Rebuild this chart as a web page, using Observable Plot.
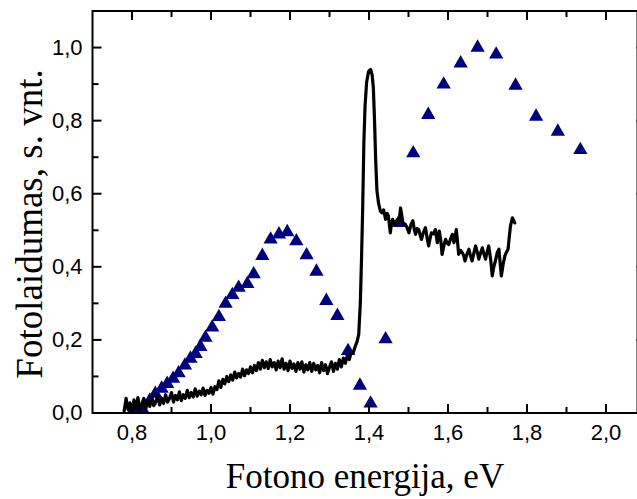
<!DOCTYPE html>
<html>
<head>
<meta charset="utf-8">
<script src="https://cdn.jsdelivr.net/npm/d3@7"></script>
<script src="https://cdn.jsdelivr.net/npm/@observablehq/plot@0.6"></script>
<style>
  html, body { margin: 0; padding: 0; background: #fff; overflow: hidden; }
  #chart svg { display: block; }
</style>
</head>
<body>
<div id="chart"></div>
<script>
// ---- data ----
const triangleX = [0.805,0.826,0.845,0.859,0.875,0.889,0.904,0.918,0.934,0.948,0.961,0.973,0.986,1.003,1.020,1.037,1.054,1.070,1.092,1.108,1.130,1.151,1.172,1.193,1.216,1.242,1.267,1.292,1.320,1.347,1.377,1.404,1.442,1.475,1.512,1.550,1.589,1.632,1.675,1.722,1.771,1.823,1.878,1.935];
const triangleY = [0.011,0.011,0.034,0.053,0.067,0.080,0.094,0.109,0.130,0.149,0.162,0.181,0.206,0.234,0.263,0.299,0.323,0.343,0.353,0.380,0.430,0.475,0.489,0.495,0.470,0.432,0.387,0.307,0.266,0.170,0.075,0.026,0.202,0.520,0.711,0.816,0.899,0.957,1.000,0.981,0.896,0.811,0.770,0.720];

const photoLine = [
[0.780,0.005],[0.785,0.040],[0.790,0.010],[0.795,0.028],[0.800,0.002],[0.805,0.036],[0.810,0.012],[0.815,0.042],[0.820,0.008],[0.825,0.025],
[0.830,0.040],[0.835,0.012],[0.840,0.034],[0.845,0.018],[0.850,0.044],[0.855,0.020],[0.860,0.030],[0.865,0.048],[0.870,0.022],[0.875,0.040],
[0.880,0.026],[0.885,0.050],[0.890,0.030],[0.895,0.040],[0.900,0.056],[0.905,0.030],[0.910,0.048],[0.915,0.036],[0.920,0.058],[0.925,0.034],
[0.930,0.050],[0.935,0.040],[0.940,0.062],[0.945,0.042],[0.950,0.056],[0.955,0.044],[0.960,0.066],[0.965,0.046],[0.970,0.060],[0.975,0.050],
[0.980,0.068],[0.985,0.048],[0.990,0.062],[0.995,0.054],[1.000,0.070],[1.005,0.052],[1.010,0.072],[1.015,0.064],[1.020,0.088],[1.025,0.070],
[1.030,0.092],[1.035,0.080],[1.040,0.100],[1.045,0.086],[1.050,0.104],[1.055,0.090],[1.060,0.112],[1.065,0.096],[1.070,0.108],[1.075,0.098],
[1.080,0.120],[1.085,0.102],[1.090,0.118],[1.095,0.108],[1.100,0.126],[1.105,0.110],[1.110,0.130],[1.115,0.116],[1.120,0.138],[1.125,0.120],
[1.130,0.144],[1.135,0.124],[1.140,0.140],[1.145,0.122],[1.150,0.146],[1.155,0.126],[1.160,0.138],[1.165,0.118],[1.170,0.142],[1.175,0.124],
[1.180,0.148],[1.185,0.120],[1.190,0.136],[1.195,0.116],[1.200,0.142],[1.205,0.122],[1.210,0.134],[1.215,0.114],[1.220,0.138],[1.225,0.120],
[1.230,0.140],[1.235,0.112],[1.240,0.132],[1.245,0.118],[1.250,0.138],[1.255,0.114],[1.260,0.136],[1.265,0.118],[1.270,0.130],[1.275,0.110],
[1.280,0.138],[1.285,0.116],[1.290,0.132],[1.295,0.108],[1.300,0.126],[1.305,0.140],[1.310,0.114],[1.315,0.136],[1.320,0.120],[1.325,0.146],
[1.330,0.126],[1.335,0.150],[1.340,0.136],[1.345,0.158],[1.350,0.146],[1.355,0.166],[1.360,0.165],[1.365,0.182],[1.370,0.196],[1.374,0.215],
[1.378,0.300],[1.381,0.420],[1.384,0.560],[1.387,0.740],[1.390,0.840],[1.394,0.905],[1.399,0.935],[1.404,0.940],[1.408,0.925],[1.411,0.890],
[1.414,0.800],[1.417,0.690],[1.420,0.610],[1.424,0.575],[1.429,0.552],
[1.433,0.548],[1.437,0.556],[1.442,0.530],[1.446,0.546],[1.449,0.540],[1.454,0.493],[1.457,0.520],[1.460,0.530],[1.465,0.515],[1.471,0.528],
[1.476,0.522],[1.480,0.561],[1.483,0.540],[1.486,0.520],[1.492,0.516],[1.496,0.508],[1.501,0.493],[1.506,0.515],[1.511,0.526],[1.515,0.500],
[1.518,0.489],[1.522,0.505],[1.526,0.502],[1.530,0.485],[1.533,0.475],[1.538,0.495],[1.543,0.507],[1.547,0.480],[1.551,0.457],[1.555,0.480],
[1.558,0.493],[1.563,0.490],[1.568,0.502],[1.573,0.466],[1.578,0.498],[1.582,0.470],[1.585,0.434],[1.590,0.460],[1.594,0.475],[1.598,0.465],
[1.602,0.461],[1.607,0.478],[1.611,0.489],[1.615,0.466],[1.618,0.480],[1.621,0.502],[1.624,0.470],[1.627,0.434],[1.632,0.445],[1.636,0.439],
[1.640,0.430],[1.643,0.416],[1.648,0.435],[1.653,0.448],[1.657,0.430],[1.661,0.416],[1.666,0.440],[1.670,0.457],[1.674,0.440],[1.678,0.421],
[1.683,0.440],[1.687,0.452],[1.691,0.435],[1.695,0.421],[1.699,0.440],[1.703,0.457],[1.708,0.420],[1.712,0.375],[1.716,0.400],[1.720,0.416],
[1.725,0.440],[1.729,0.448],[1.732,0.410],[1.735,0.375],[1.740,0.410],[1.744,0.430],[1.748,0.440],[1.752,0.448],[1.755,0.480],[1.758,0.511],
[1.763,0.534],[1.767,0.525],[1.769,0.520]
];

const xMajorTicks = [0.8, 1.0, 1.2, 1.4, 1.6, 1.8, 2.0];
const xMajorLabels = ["0,8", "1,0", "1,2", "1,4", "1,6", "1,8", "2,0"];
const xMinorTicks = [0.9, 1.1, 1.3, 1.5, 1.7, 1.9];
const yMajorTicks = [0.0, 0.2, 0.4, 0.6, 0.8, 1.0];
const yMajorLabels = ["0,0", "0,2", "0,4", "0,6", "0,8", "1,0"];
const yMinorTicks = [0.1, 0.3, 0.5, 0.7, 0.9];

const xTitle = "Fotono energija, eV";
const yTitle = "Fotolaidumas, s. vnt.";

// ---- build ----
const triangles = triangleX.map((x, i) => ({x, y: triangleY[i]}));

const tickSym = (dx, dy) => ({ draw(ctx) { ctx.moveTo(0, 0); ctx.lineTo(dx, dy); } });
const MAJ = 9, MIN = 6;

const xDomain = [0.7, 2.1], yDomain = [0, 1.1];

const chart = Plot.plot({
  width: 637,
  height: 499,
  marginLeft: 92,
  marginTop: 10.5,
  marginBottom: 86.5,
  marginRight: 0,
  style: {background: "#fff", overflow: "hidden"},
  x: {domain: xDomain, range: [92, 645], axis: null},
  y: {domain: yDomain, axis: null},
  marks: [
    Plot.dot(triangles, {x: "x", y: "y", symbol: "triangle", r: 5.3, fill: "#000080", stroke: "none"}),
    Plot.line(photoLine, {x: d => d[0], y: d => d[1], stroke: "#000", strokeWidth: 3.2, strokeLinejoin: "round"}),
    // frame
    Plot.frame({stroke: "#000", strokeWidth: 2}),
    // ticks bottom / top
    Plot.dot(xMajorTicks, {x: d => d, y: () => 0, symbol: tickSym(0, -MAJ), stroke: "#000", strokeWidth: 2, fill: "none"}),
    Plot.dot(xMinorTicks, {x: d => d, y: () => 0, symbol: tickSym(0, -MIN), stroke: "#000", strokeWidth: 2, fill: "none"}),
    Plot.dot(xMajorTicks, {x: d => d, y: () => 1.1, symbol: tickSym(0, MAJ), stroke: "#000", strokeWidth: 2, fill: "none"}),
    Plot.dot(xMinorTicks, {x: d => d, y: () => 1.1, symbol: tickSym(0, MIN), stroke: "#000", strokeWidth: 2, fill: "none"}),
    // ticks left / right
    Plot.dot(yMajorTicks, {y: d => d, x: () => 0.7, symbol: tickSym(MAJ, 0), stroke: "#000", strokeWidth: 2, fill: "none"}),
    Plot.dot(yMinorTicks, {y: d => d, x: () => 0.7, symbol: tickSym(MIN, 0), stroke: "#000", strokeWidth: 2, fill: "none"}),
    Plot.dot(yMajorTicks, {y: d => d, x: () => 2.1, symbol: tickSym(-MAJ, 0), stroke: "#000", strokeWidth: 2, fill: "none"}),
    Plot.dot(yMinorTicks, {y: d => d, x: () => 2.1, symbol: tickSym(-MIN, 0), stroke: "#000", strokeWidth: 2, fill: "none"}),
    // tick labels
    Plot.text(xMajorTicks, {x: d => d, frameAnchor: "bottom", text: (d, i) => xMajorLabels[i], dy: 20, textAnchor: "middle", lineAnchor: "middle", fontSize: 22, fontFamily: "Liberation Sans, Arial, sans-serif", fill: "#000"}),
    Plot.text(yMajorTicks, {y: d => d, frameAnchor: "left", text: (d, i) => yMajorLabels[i], dx: -10, textAnchor: "end", lineAnchor: "middle", fontSize: 22, fontFamily: "Liberation Sans, Arial, sans-serif", fill: "#000"}),
    // axis titles
    Plot.text([xTitle], {frameAnchor: "bottom", text: d => d, dy: 64, textAnchor: "middle", lineAnchor: "middle", fontSize: 35, fontFamily: "Liberation Serif, Times New Roman, serif", fill: "#000"}),
    Plot.text([yTitle], {frameAnchor: "left", text: d => d, dx: -62, dy: 12, rotate: -90, textAnchor: "middle", lineAnchor: "middle", fontSize: 37, fontFamily: "Liberation Serif, Times New Roman, serif", fill: "#000"})
  ]
});
document.getElementById("chart").appendChild(chart);
</script>
</body>
</html>
